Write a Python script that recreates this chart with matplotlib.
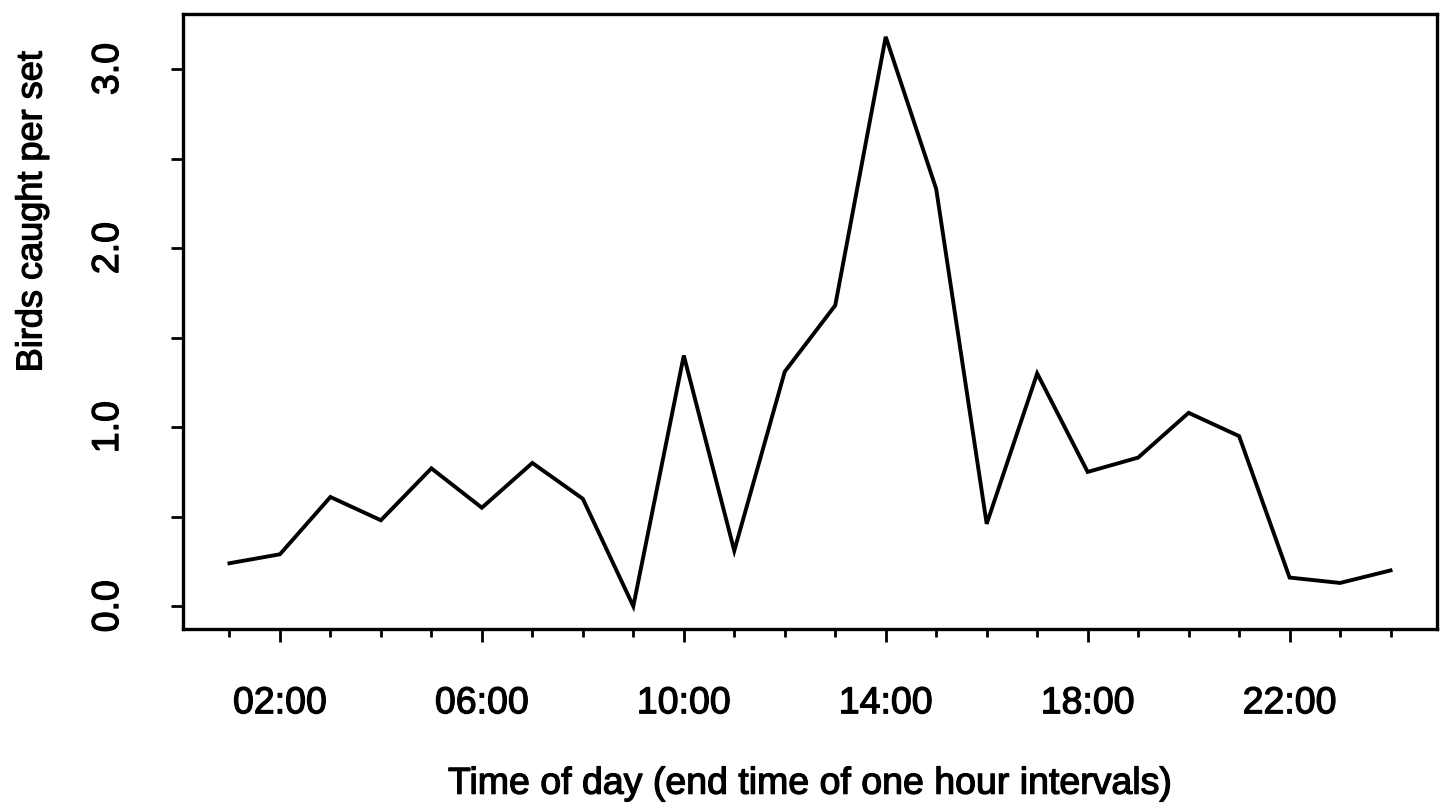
import numpy as np
import matplotlib
matplotlib.use("Agg")
import matplotlib.pyplot as plt
import matplotlib.patheffects as pe
from matplotlib.ticker import FixedLocator

plt.rcParams['font.family'] = ['Liberation Sans', 'DejaVu Sans']

# hourly catch rate, hour = end of each one hour interval
hours = list(range(1, 25))
birds_per_set = [0.24, 0.29, 0.61, 0.48, 0.77, 0.55, 0.80, 0.60,
                 0.00, 1.40, 0.31, 1.31, 1.68, 3.18, 2.33, 0.46,
                 1.30, 0.75, 0.83, 1.08, 0.95, 0.16, 0.13, 0.20]

label_hours = [2, 6, 10, 14, 18, 22]
label_text = ["02:00", "06:00", "10:00", "14:00", "18:00", "22:00"]
y_major = [0.0, 1.0, 2.0, 3.0]
y_minor = [0.5, 1.5, 2.5]

# slightly heavier glyphs, like an old laser print
heavy = [pe.withStroke(linewidth=0.9, foreground="black")]

W, H = 1446, 809
fig = plt.figure(figsize=(W / 100, H / 100), dpi=100)
ax = fig.add_axes([183 / W, 1 - 629 / H, (1437 - 183) / W, (629 - 14) / H])

ax.plot(hours, birds_per_set, color="black", lw=2.8, solid_joinstyle="miter")

# R-style 4% padding
xr = hours[-1] - hours[0]
yr = max(birds_per_set) - min(birds_per_set)
ax.set_xlim(hours[0] - 0.04 * xr, hours[-1] + 0.04 * xr)
ax.set_ylim(min(birds_per_set) - 0.04 * yr, max(birds_per_set) + 0.04 * yr)

for s in ax.spines.values():
    s.set_linewidth(2.4)

ax.xaxis.set_major_locator(FixedLocator(label_hours))
ax.xaxis.set_minor_locator(FixedLocator([h for h in hours if h not in label_hours]))
ax.set_xticklabels(label_text, fontsize=27)
ax.tick_params(axis="x", which="major", length=9.5, width=2, pad=31)
ax.tick_params(axis="x", which="minor", length=6, width=2)

ax.yaxis.set_major_locator(FixedLocator(y_major))
ax.yaxis.set_minor_locator(FixedLocator(y_minor))
ax.set_yticklabels(["%.1f" % v for v in y_major], fontsize=27,
                   rotation=90, va="center")
ax.tick_params(axis="y", which="both", length=9, width=2, pad=32)

for t in ax.get_xticklabels() + ax.get_yticklabels():
    t.set_path_effects(heavy)

ax.set_xlabel("Time of day (end time of one hour intervals)", fontsize=27,
              labelpad=32, path_effects=heavy)
fig.text(32 / W, 1 - 212 / H, "Birds caught per set", fontsize=26,
         rotation=90, ha="center", va="center", path_effects=heavy)

fig.savefig("out.png", dpi=100)
